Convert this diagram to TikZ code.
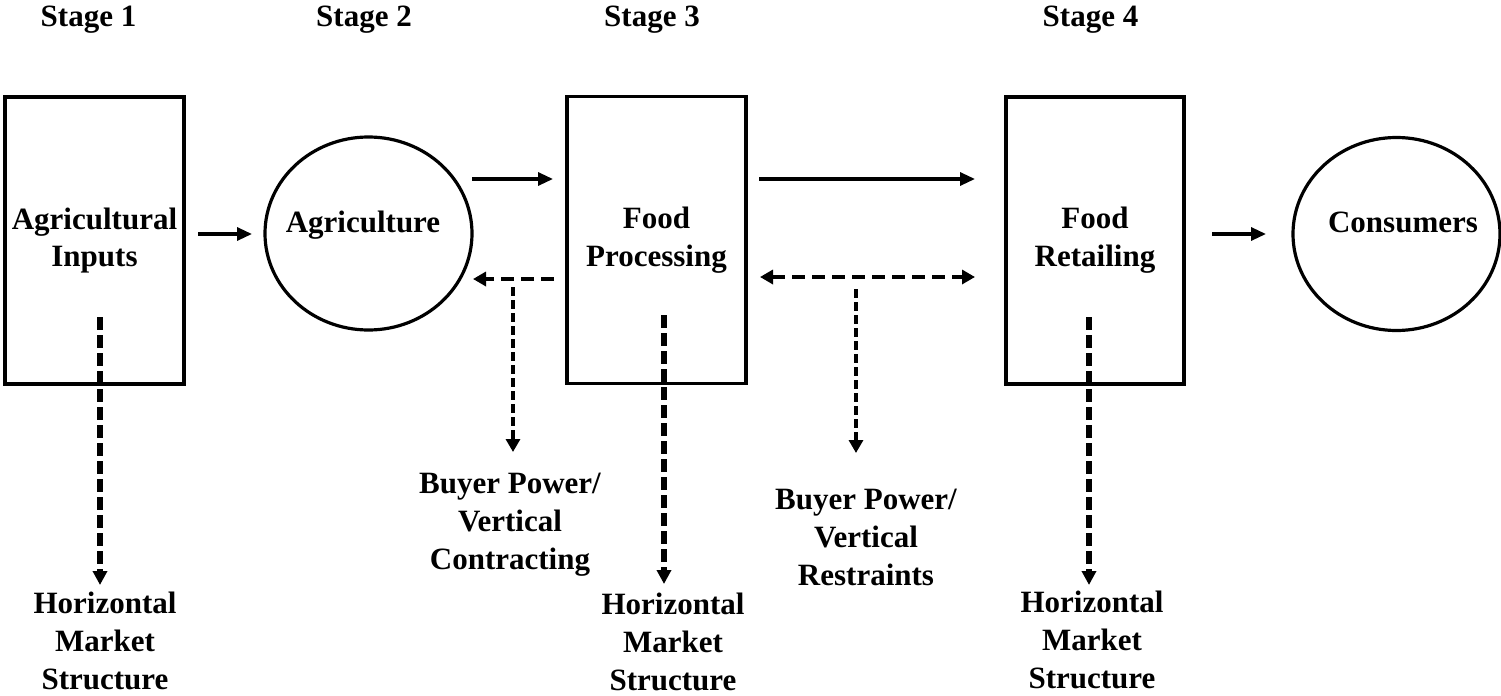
\documentclass[tikz,border=0pt]{standalone}
\usepackage{fontspec}
\setmainfont{Liberation Serif}
\usetikzlibrary{arrows.meta,shapes.geometric}
\begin{document}
\begin{tikzpicture}[x=0.5pt,y=-0.5pt,
  every node/.style={font=\fontsize{15.5}{18.9}\selectfont\bfseries, inner sep=0pt, align=center},
  stagebox/.style={draw, line width=1.6pt, minimum height=143.5pt},
  stageoval/.style={draw, ellipse, line width=1.6pt, minimum width=103.5pt, minimum height=96.5pt},
  solidarrow/.style={line width=1.6pt, -{Triangle[length=7.5pt,width=6.5pt]}},
  hdash/.style={line width=1.9pt, dash pattern=on 6.5pt off 3.5pt, -{Triangle[length=6.5pt,width=7pt]}},
  hdashboth/.style={hdash, {Triangle[length=6.5pt,width=7pt]}-{Triangle[length=6.5pt,width=7pt]}},
  thindash/.style={line width=1.6pt, dash pattern=on 4.5pt off 2pt, -{Triangle[length=6.5pt,width=7pt]}},
  thickdash/.style={line width=2.6pt, dash pattern=on 6.5pt off 2.5pt, -{Triangle[length=7pt,width=7pt]}}
]
\useasboundingbox (0,0) rectangle (1501,696);

% stage headings
\node[anchor=base] (st1) at (88.5,26) {Stage 1};
\node[anchor=base] (st2) at (364,26) {Stage 2};
\node[anchor=base] (st3) at (652,26) {Stage 3};
\node[anchor=base] (st4) at (1090.5,26) {Stage 4};

% main nodes
\node[stagebox, minimum width=89.5pt] (inputs) at (94.5,240.5) {Agricultural\\Inputs};
\node[stageoval] (agri) at (368.5,233.5) {};
\node[anchor=base] (agritext) at (363,232) {Agriculture};
\node[stagebox, minimum width=89.5pt] (proc) at (656.5,240) {Food\\Processing};
\node[stagebox, minimum width=89pt] (retail) at (1095,240.5) {Food\\Retailing};
\node[stageoval] (cons) at (1396.5,234) {};
\node[anchor=base] (constext) at (1403,232) {Consumers};

% lower labels (base = last line)
\node[anchor=base] (hms1) at (105,689) {Horizontal\\Market\\Structure};
\node[anchor=base] (hms3) at (673,690) {Horizontal\\Market\\Structure};
\node[anchor=base] (hms4) at (1092,688) {Horizontal\\Market\\Structure};
\node[anchor=base] (bpvc) at (510,569) {Buyer Power/\\Vertical\\Contracting};
\node[anchor=base] (bpvr) at (866,585) {Buyer Power/\\Vertical\\Restraints};

% connector end points
\coordinate (a1s) at (198,234);  \coordinate (a1e) at (252,234);
\coordinate (a2s) at (472,179);  \coordinate (a2e) at (553,179);
\coordinate (a3s) at (759,179);  \coordinate (a3e) at (975,179);
\coordinate (a4s) at (1212,234); \coordinate (a4e) at (1266,234);
\coordinate (d1s) at (554,279);  \coordinate (d1e) at (473,279);
\coordinate (d2s) at (760,277);  \coordinate (d2e) at (975,277);
\coordinate (v1s) at (513,287);  \coordinate (v1e) at (513,452);
\coordinate (v2s) at (856,289);  \coordinate (v2e) at (856,453);
\coordinate (t1s) at (100,317);  \coordinate (t1e) at (100,585);
\coordinate (t3s) at (664,315);  \coordinate (t3e) at (664,584);
\coordinate (t4s) at (1089,317); \coordinate (t4e) at (1089,585);

% connectors
\draw[solidarrow] (a1s) -- (a1e);
\draw[solidarrow] (a2s) -- (a2e);
\draw[solidarrow] (a3s) -- (a3e);
\draw[solidarrow] (a4s) -- (a4e);
\draw[hdash] (d1s) -- (d1e);
\draw[hdashboth] (d2s) -- (d2e);
\draw[thindash] (v1s) -- (v1e);
\draw[thindash] (v2s) -- (v2e);
\draw[thickdash] (t1s) -- (t1e);
\draw[thickdash] (t3s) -- (t3e);
\draw[thickdash] (t4s) -- (t4e);
\end{tikzpicture}
\end{document}
